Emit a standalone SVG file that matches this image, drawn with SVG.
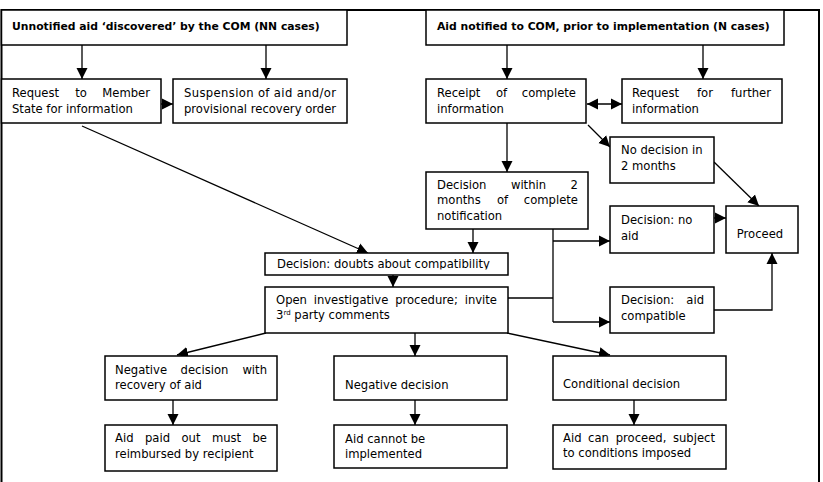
<svg xmlns="http://www.w3.org/2000/svg" width="823" height="482" viewBox="0 0 823 482">
<style>
.box{fill:#fff;stroke:#000;stroke-width:1.5}
.frame{fill:none;stroke:#000;stroke-width:2}
.ln{fill:none;stroke:#000;stroke-width:1.3}
text{font-family:"DejaVu Sans",Verdana,sans-serif;font-size:11.6px;fill:#000}
.b{font-weight:bold;font-size:10.8px}
.m{text-anchor:middle}
.e{text-anchor:end}
</style>
<defs>
<marker id="ah" markerUnits="userSpaceOnUse" markerWidth="12" markerHeight="12" refX="11" refY="6" orient="auto-start-reverse">
<path d="M0,0.5 L11,6 L0,11.5 z" fill="#000"/>
</marker>
<clipPath id="clipDoubts"><rect x="265" y="253" width="243" height="16.5"/></clipPath>
</defs>
<rect width="823" height="482" fill="#fff"/>
<path class="frame" d="M1.5,482 V10 H819 V482"/>

<g id="connectors">
<line class="ln" x1="82" y1="45" x2="82" y2="79" marker-end="url(#ah)"/>
<line class="ln" x1="266" y1="45" x2="266" y2="79" marker-end="url(#ah)"/>
<line class="ln" x1="161" y1="104" x2="173" y2="104" marker-end="url(#ah)"/>
<line class="ln" x1="507" y1="45" x2="507" y2="79" marker-end="url(#ah)"/>
<line class="ln" x1="703" y1="45" x2="703" y2="79" marker-end="url(#ah)"/>
<line class="ln" x1="587" y1="104" x2="622" y2="104" marker-start="url(#ah)" marker-end="url(#ah)"/>
<line class="ln" x1="507" y1="123" x2="507" y2="172" marker-end="url(#ah)"/>
<line class="ln" x1="588" y1="125" x2="610" y2="147" marker-end="url(#ah)"/>
<line class="ln" x1="714" y1="162" x2="759" y2="206" marker-end="url(#ah)"/>
<line class="ln" x1="714" y1="218" x2="726" y2="218" marker-end="url(#ah)"/>
<path class="ln" d="M714,310 H772 V253" marker-end="url(#ah)"/>
<path class="ln" d="M553,229 V322"/>
<line class="ln" x1="553" y1="241" x2="610" y2="241" marker-end="url(#ah)"/>
<line class="ln" x1="553" y1="322" x2="610" y2="322" marker-end="url(#ah)"/>
<line class="ln" x1="508" y1="298" x2="553" y2="298"/>
<line class="ln" x1="473" y1="229" x2="473" y2="253" marker-end="url(#ah)"/>
<line class="ln" x1="82" y1="126" x2="368" y2="253" marker-end="url(#ah)"/>
<line class="ln" x1="393" y1="275" x2="393" y2="287" marker-end="url(#ah)"/>
<line class="ln" x1="266" y1="333" x2="177" y2="355" marker-end="url(#ah)"/>
<line class="ln" x1="415" y1="333" x2="415" y2="356" marker-end="url(#ah)"/>
<line class="ln" x1="507" y1="333" x2="610" y2="355" marker-end="url(#ah)"/>
<line class="ln" x1="173" y1="400" x2="173" y2="425" marker-end="url(#ah)"/>
<line class="ln" x1="415" y1="400" x2="415" y2="425" marker-end="url(#ah)"/>
<line class="ln" x1="634" y1="400" x2="634" y2="425" marker-end="url(#ah)"/>
</g>

<g id="n-unnotified">
<rect class="box" x="1.5" y="10" width="345.5" height="35"/>
<text class="b" x="12" y="30">Unnotified aid ‘discovered’ by the COM (NN cases)</text>
</g>
<g id="n-request-ms">
<rect class="box" x="1.5" y="79" width="159.5" height="44"/>
<text x="12" y="97">Request</text><text class="m" x="81" y="97">to</text><text class="e" x="150" y="97">Member</text>
<text x="12" y="112.5">State for information</text>
</g>
<g id="n-suspension">
<rect class="box" x="173" y="79" width="174" height="44"/>
<text x="184" y="97" textLength="152" lengthAdjust="spacing">Suspension of aid and/or</text>
<text x="184" y="112.5">provisional recovery order</text>
</g>
<g id="n-notified">
<rect class="box" x="426" y="10" width="358" height="35"/>
<text class="b" x="437" y="30">Aid notified to COM, prior to implementation (N cases)</text>
</g>
<g id="n-receipt">
<rect class="box" x="426" y="79" width="160" height="44"/>
<text x="437" y="97">Receipt</text><text class="m" x="501.5" y="97">of</text><text class="e" x="576" y="97">complete</text>
<text x="437" y="112.5">information</text>
</g>
<g id="n-further">
<rect class="box" x="622" y="79" width="160" height="44"/>
<text x="632" y="97">Request</text><text class="m" x="705" y="97">for</text><text class="e" x="771" y="97">further</text>
<text x="632" y="112.5">information</text>
</g>
<g id="n-nodecision">
<rect class="box" x="610" y="137" width="104" height="46"/>
<text x="621" y="154">No decision in</text>
<text x="621" y="169.5">2 months</text>
</g>
<g id="n-within">
<rect class="box" x="426" y="172" width="162" height="57"/>
<text x="437" y="188.5">Decision</text><text class="m" x="528.5" y="188.5">within</text><text class="e" x="578" y="188.5">2</text>
<text x="437" y="204">months</text><text class="m" x="502.5" y="204">of</text><text class="e" x="578" y="204">complete</text>
<text x="437" y="219.5">notification</text>
</g>
<g id="n-noaid">
<rect class="box" x="610" y="206" width="104" height="47"/>
<text x="621" y="224">Decision: no</text>
<text x="621" y="239.5">aid</text>
</g>
<g id="n-proceed">
<rect class="box" x="726" y="206" width="72" height="47"/>
<text class="m" x="760" y="238">Proceed</text>
</g>
<g id="n-compatible">
<rect class="box" x="610" y="287" width="104" height="46"/>
<text x="621" y="304">Decision:</text><text class="e" x="704" y="304">aid</text>
<text x="621" y="319.5">compatible</text>
</g>
<g id="n-doubts">
<rect class="box" x="265" y="253" width="243" height="22"/>
<text x="277" y="268" clip-path="url(#clipDoubts)">Decision: doubts about compatibility</text>
</g>
<g id="n-open">
<rect class="box" x="265" y="287" width="243" height="46"/>
<text x="276" y="303.5">Open</text><text class="m" x="351" y="303.5">investigative</text><text class="m" x="426.5" y="303.5">procedure;</text><text class="e" x="497" y="303.5">invite</text>
<text x="276" y="319">3<tspan font-size="7" dy="-4.5">rd</tspan><tspan dy="4.5"> party comments</tspan></text>
</g>
<g id="n-negrecovery">
<rect class="box" x="105" y="356" width="172" height="44"/>
<text x="115" y="373.5">Negative</text><text class="m" x="204.5" y="373.5">decision</text><text class="e" x="267" y="373.5">with</text>
<text x="115" y="389">recovery of aid</text>
</g>
<g id="n-negative">
<rect class="box" x="334" y="356" width="173" height="44"/>
<text x="345" y="388.5">Negative decision</text>
</g>
<g id="n-conditional">
<rect class="box" x="553" y="356" width="173" height="44"/>
<text x="563" y="387.5">Conditional decision</text>
</g>
<g id="n-reimbursed">
<rect class="box" x="105" y="425" width="172" height="46"/>
<text x="115" y="442">Aid</text><text class="m" x="157.5" y="442">paid</text><text class="m" x="191" y="442">out</text><text class="m" x="226.5" y="442">must</text><text class="e" x="267" y="442">be</text>
<text x="115" y="457.5">reimbursed by recipient</text>
</g>
<g id="n-cannot">
<rect class="box" x="334" y="425" width="173" height="43"/>
<text x="345" y="442.5">Aid cannot be</text>
<text x="345" y="457.5">implemented</text>
</g>
<g id="n-canproceed">
<rect class="box" x="553" y="425" width="173" height="44"/>
<text x="563" y="442">Aid</text><text class="m" x="598.5" y="442">can</text><text class="m" x="641" y="442">proceed,</text><text class="e" x="715" y="442">subject</text>
<text x="563" y="457">to conditions imposed</text>
</g>
</svg>
